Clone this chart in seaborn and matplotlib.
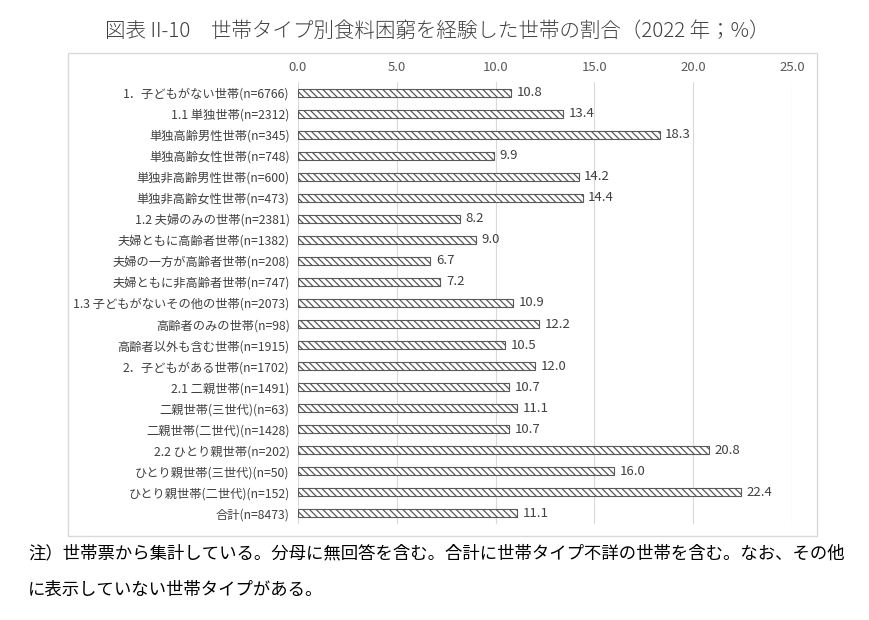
import matplotlib
matplotlib.use("Agg")
import matplotlib.pyplot as plt
import seaborn as sns
import pandas as pd
from matplotlib.patches import Rectangle

categories = [
    "1．子どもがない世帯(n=6766)",
    "1.1 単独世帯(n=2312)",
    "単独高齢男性世帯(n=345)",
    "単独高齢女性世帯(n=748)",
    "単独非高齢男性世帯(n=600)",
    "単独非高齢女性世帯(n=473)",
    "1.2 夫婦のみの世帯(n=2381)",
    "夫婦ともに高齢者世帯(n=1382)",
    "夫婦の一方が高齢者世帯(n=208)",
    "夫婦ともに非高齢者世帯(n=747)",
    "1.3 子どもがないその他の世帯(n=2073)",
    "高齢者のみの世帯(n=98)",
    "高齢者以外も含む世帯(n=1915)",
    "2．子どもがある世帯(n=1702)",
    "2.1 二親世帯(n=1491)",
    "二親世帯(三世代)(n=63)",
    "二親世帯(二世代)(n=1428)",
    "2.2 ひとり親世帯(n=202)",
    "ひとり親世帯(三世代)(n=50)",
    "ひとり親世帯(二世代)(n=152)",
    "合計(n=8473)",
]
values = [10.8, 13.4, 18.3, 9.9, 14.2, 14.4, 8.2, 9.0, 6.7, 7.2, 10.9,
          12.2, 10.5, 12.0, 10.7, 11.1, 10.7, 20.8, 16.0, 22.4, 11.1]
xticks = [0, 5, 10, 15, 20, 25]
xtick_labels = ["0.0", "5.0", "10.0", "15.0", "20.0", "25.0"]

title = "図表 II-10　世帯タイプ別食料困窮を経験した世帯の割合（2022 年；%）"
note1 = "注）世帯票から集計している。分母に無回答を含む。合計に世帯タイプ不詳の世帯を含む。なお、その他"
note2 = "に表示していない世帯タイプがある。"

sns.set_theme(style="white")
plt.rcParams['font.family'] = ['Noto Sans CJK JP', 'DejaVu Sans']
plt.rcParams['hatch.color'] = '#4d4d4d'
plt.rcParams['hatch.linewidth'] = 0.9

df = pd.DataFrame({"cat": categories, "val": values})

fig = plt.figure(figsize=(8.7, 6.2), dpi=100)
W, H = 870, 620
ax = fig.add_axes([298 / W, 1 - 524 / H, (792 - 298) / W, (524 - 82) / H])

sns.barplot(data=df, x="val", y="cat", orient="h", color="white",
            edgecolor="#595959", linewidth=0.8, width=0.38, ax=ax,
            order=categories)
for p in ax.patches:
    p.set_hatch("\\\\\\\\\\")
    p.set_facecolor("white")

ax.bar_label(ax.containers[0], fmt="%.1f", padding=4, fontsize=9.5,
             color="#404040")

ax.set_xlim(0, 25)
ax.set_ylim(len(categories) - 0.5, -0.5)
ax.set_xticks(xticks)
ax.set_xticklabels(xtick_labels)
ax.xaxis.tick_top()
ax.tick_params(axis="x", length=0, pad=6, labelsize=9.5, colors="#595959")
ax.tick_params(axis="y", length=0, pad=6, labelsize=8.8, colors="#404040")
ax.set_xlabel("")
ax.set_ylabel("")
ax.grid(axis="x", color="#d9d9d9", linewidth=0.8)
ax.set_axisbelow(True)
for s in ax.spines.values():
    s.set_visible(False)

# outer chart frame
fig.patches.append(Rectangle((68 / W, 1 - 536 / H), (817 - 68) / W, (536 - 53) / H,
                             transform=fig.transFigure, fill=False,
                             edgecolor="#d9d9d9", linewidth=1.0))

fig.text(437 / W, 1 - 31 / H, title, ha="center", va="center", fontsize=14.8,
         color="#404040", fontweight="light")
fig.text(28 / W, 1 - 553 / H, note1, ha="left", va="center", fontsize=12.5,
         color="#000000")
fig.text(28 / W, 1 - 590 / H, note2, ha="left", va="center", fontsize=12.5,
         color="#000000")

fig.savefig("out.png", dpi=100)
